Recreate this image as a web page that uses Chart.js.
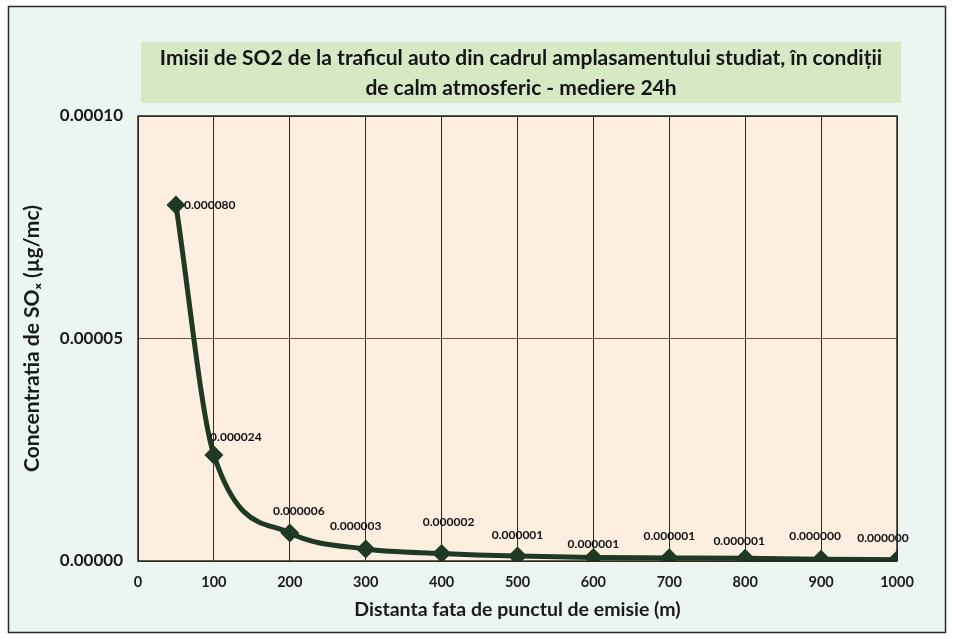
<!DOCTYPE html>
<html>
<head>
<meta charset="utf-8">
<script src="https://cdn.jsdelivr.net/npm/chart.js@4.4.1/dist/chart.umd.min.js"></script>
<style>
  body { margin: 0; background: #ffffff; }
  #wrap { width: 953px; height: 639px; }
</style>
</head>
<body>
<div id="wrap"><canvas id="chart" width="953" height="639"></canvas></div>
<script>
// distance from the emission point (m) and SO2 concentration (ug/mc)
const distances = [50, 100, 200, 300, 400, 500, 600, 700, 800, 900, 1000];
const concentrations = [0.0000800, 0.0000238, 0.0000063, 0.0000027, 0.0000017, 0.0000011, 0.0000008, 0.0000007, 0.0000006, 0.0000004, 0.0000003];
const xTicks = [0, 100, 200, 300, 400, 500, 600, 700, 800, 900, 1000];
const yTicks = [0, 0.00005, 0.0001];

const titleLines = ['Imisii de SO2 de la traficul auto din cadrul amplasamentului studiat, în condiții', 'de calm atmosferic - mediere 24h'];

// label nudges (dx, dy) like the hand-placed Excel labels
const labelShift = [[8, 0], [22, -18], [9, -22], [-10, -23], [7, -31], [0, -21], [0, -13], [0, -22], [-6, -17], [-6, -23], [-14, -22]];

const FONT = 'Lato, "Open Sans", "DejaVu Sans", sans-serif';
const lineColor = '#1f3a24';

// background, outer frame, title band and plot fill
const backdrop = {
  id: 'backdrop',
  beforeDraw(chart) {
    const c = chart.ctx;
    const a = chart.chartArea;
    c.save();
    c.fillStyle = '#ffffff';
    c.fillRect(0, 0, chart.width, chart.height);
    c.fillStyle = '#ecf6f0';
    c.fillRect(8, 6, 937, 626);
    c.strokeStyle = '#2a2a2a';
    c.lineWidth = 1.5;
    c.strokeRect(8.5, 6.5, 937, 626);
    c.fillStyle = '#d6e9c5';
    c.fillRect(141, 42, 760, 61);
    c.fillStyle = '#fcefdf';
    c.fillRect(a.left, a.top, a.right - a.left, a.bottom - a.top);

    // chart title inside the green band
    c.fillStyle = '#151515';
    c.font = 'bold 21px ' + FONT;
    c.textAlign = 'center';
    c.textBaseline = 'middle';
    c.fillText(titleLines[0], 521, 58);
    c.fillText(titleLines[1], 521, 88);
    c.restore();
  },
  afterDraw(chart) {
    const c = chart.ctx;
    const a = chart.chartArea;
    c.save();
    c.strokeStyle = '#2b2b22';
    c.lineWidth = 1.5;
    c.strokeRect(a.left, a.top, a.right - a.left, a.bottom - a.top);
    c.restore();
  }
};

// value labels next to each point
const pointLabels = {
  id: 'pointLabels',
  afterDatasetsDraw(chart) {
    const c = chart.ctx;
    const meta = chart.getDatasetMeta(0);
    c.save();
    c.font = 'bold 12px ' + FONT;
    c.fillStyle = '#111111';
    c.textBaseline = 'middle';
    meta.data.forEach((pt, i) => {
      const s = labelShift[i] || [0, -20];
      c.textAlign = i === 0 ? 'left' : 'center';
      c.fillText(concentrations[i].toFixed(6), pt.x + s[0], pt.y + s[1]);
    });
    c.restore();
  }
};

const ctx = document.getElementById('chart').getContext('2d');
const chart = new Chart(ctx, {
  type: 'line',
  data: {
    datasets: [{
      data: distances.map((d, i) => ({ x: d, y: concentrations[i] })),
      borderColor: lineColor,
      backgroundColor: lineColor,
      borderWidth: 5,
      pointStyle: 'rectRot',
      pointRadius: 6,
      pointHoverRadius: 6,
      cubicInterpolationMode: 'monotone',
      fill: false
    }]
  },
  options: {
    responsive: false,
    animation: false,
    layout: { padding: { left: 16, right: 56, top: 116, bottom: 0 } },
    plugins: {
      legend: { display: false },
      tooltip: { enabled: false },
      title: { display: false }
    },
    scales: {
      x: {
        type: 'linear',
        min: 0,
        max: 1000,
        afterBuildTicks: s => { s.ticks = xTicks.map(v => ({ value: v })); },
        grid: { color: '#2e2e24', lineWidth: 1, drawTicks: false },
        border: { display: false },
        ticks: {
          color: '#1a1a1a',
          padding: 13,
          font: { family: FONT, size: 14.5, weight: 'bold' },
          callback: v => String(v)
        },
        title: {
          display: true,
          text: 'Distanta fata de punctul de emisie (m)',
          color: '#1a1a1a',
          font: { family: FONT, size: 19.5, weight: 'bold' },
          padding: { top: 2, bottom: 18 }
        },
        afterFit: s => { s.height = 639 - 561; }
      },
      y: {
        min: 0,
        max: 0.0001,
        afterBuildTicks: s => { s.ticks = yTicks.map(v => ({ value: v })); },
        grid: { color: ctx => ctx.tick && ctx.tick.value === 0.00005 ? '#7a4e40' : '#2e2e24', lineWidth: 1, drawTicks: false },
        border: { display: false },
        ticks: {
          color: '#1a1a1a',
          padding: 15,
          font: { family: FONT, size: 17, weight: 'bold' },
          callback: v => v.toFixed(5)
        },
        title: {
          display: true,
          text: 'Concentratia de SOₓ (µg/mc)',
          color: '#1a1a1a',
          font: { family: FONT, size: 21, weight: 'bold' },
          padding: { top: 4, bottom: 8 }
        },
        afterFit: s => { s.width = 138 - 16; }
      }
    }
  },
  plugins: [backdrop, pointLabels]
});
</script>
</body>
</html>
